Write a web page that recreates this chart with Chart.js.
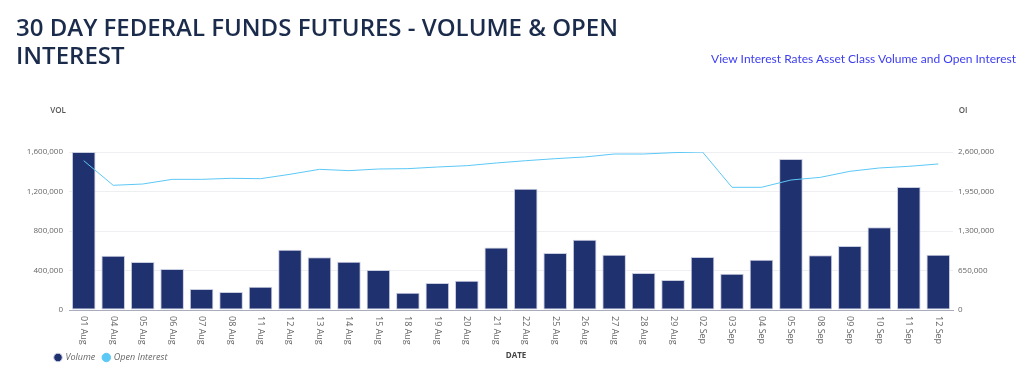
<!DOCTYPE html>
<html>
<head>
<meta charset="utf-8">
<script src="https://cdn.jsdelivr.net/npm/chart.js@4.4.1/dist/chart.umd.min.js"></script>
<style>
  html, body { margin: 0; padding: 0; background: #fff; width: 1024px; height: 367px; overflow: hidden; }
  #title { position: absolute; left: 16px; top: 13px; margin: 0; font-family: "Open Sans", sans-serif; font-weight: 600; font-size: 24px; line-height: 28px; color: #1b2b4b; white-space: nowrap; }
  #link { position: absolute; right: 8px; top: 51px; font-family: "Lato", sans-serif; font-size: 12px; color: #3d3df2; white-space: nowrap; }
  #wrap { position: absolute; left: 0; top: 0; width: 1024px; height: 367px; }
</style>
</head>
<body>
<div id="wrap"><canvas id="c" width="1024" height="367"></canvas></div>
<h1 id="title">30 DAY FEDERAL FUNDS FUTURES - VOLUME &amp; OPEN<br>INTEREST</h1>
<div id="link">View Interest Rates Asset Class Volume and Open Interest</div>
<script>
const categories = ["01 Aug","04 Aug","05 Aug","06 Aug","07 Aug","08 Aug","11 Aug","12 Aug","13 Aug","14 Aug","15 Aug","18 Aug","19 Aug","20 Aug","21 Aug","22 Aug","25 Aug","26 Aug","27 Aug","28 Aug","29 Aug","02 Sep","03 Sep","04 Sep","05 Sep","08 Sep","09 Sep","10 Sep","11 Sep","12 Sep"];
const volume = [1600000,550000,486000,415000,213000,182000,236000,611000,533000,489000,405000,175000,273000,297000,634000,1228000,577000,712000,560000,375000,304000,537000,368000,510000,1529000,554000,648000,837000,1246000,560000];
const openInterest = [2457000,2052000,2073000,2150000,2150000,2167000,2161000,2233000,2315000,2293000,2320000,2326000,2353000,2375000,2419000,2457000,2490000,2518000,2567000,2567000,2589000,2600000,2019000,2019000,2139000,2183000,2282000,2337000,2364000,2403000];
const volTicks = [0,400000,800000,1200000,1600000];
const oiTicks = [0,650000,1300000,1950000,2600000];

const NAVY = "#203170";
const SKY = "#5cc8f6";
const fmt = v => v.toLocaleString("en-US");

const extras = {
  id: "extras",
  afterLayout(chart) {
    if (chart.legend) {
      chart.legend.left += 39;
      chart.legend.top += 5;
    }
  },
  afterDraw(chart) {
    const ctx = chart.ctx;
    const x = chart.scales.x;
    ctx.save();
    ctx.font = "9px 'Open Sans', sans-serif";
    ctx.fillStyle = "#666";
    ctx.textAlign = "left";
    ctx.textBaseline = "middle";
    categories.forEach((c, i) => {
      const px = x.getPixelForValue(i);
      ctx.save();
      ctx.translate(px, x.top + 6);
      ctx.rotate(Math.PI / 2);
      ctx.fillText(c, 0, 0);
      ctx.restore();
    });
    ctx.font = "600 8px 'Open Sans', sans-serif";
    ctx.fillStyle = "#555";
    ctx.textAlign = "center";
    ctx.fillText("VOL", 58, 111);
    ctx.fillText("OI", 963, 111);
    ctx.fillStyle = "#444";
    ctx.font = "bold 8px 'Open Sans', sans-serif";
    ctx.fillText("DATE", 516, 356);
    ctx.restore();
  }
};

new Chart(document.getElementById("c"), {
  data: {
    labels: categories,
    datasets: [
      { type: "bar", label: "Volume", data: volume, yAxisID: "yVol", order: 1,
        backgroundColor: NAVY, borderColor: "#c9cde0", borderWidth: 1, borderSkipped: false,
        categoryPercentage: 1, barPercentage: 0.8 },
      { type: "line", label: "Open Interest", data: openInterest, yAxisID: "yOI", order: 0,
        borderColor: SKY, backgroundColor: SKY, borderWidth: 1, pointRadius: 0, tension: 0, fill: false }
    ]
  },
  options: {
    responsive: false,
    animation: false,
    layout: { padding: { top: 152, left: 8, right: 0, bottom: 0 } },
    plugins: {
      tooltip: { enabled: false },
      legend: {
        position: "bottom", align: "start",
        labels: { usePointStyle: true, pointStyle: "circle", boxWidth: 6, boxHeight: 6, padding: 8,
          sort: (a, b) => a.datasetIndex - b.datasetIndex,
          color: "#666", font: { family: "'Open Sans', sans-serif", size: 9, style: "italic" } }
      }
    },
    scales: {
      x: {
        ticks: { display: false },
        grid: { display: false, drawTicks: false },
        border: { display: true, color: "#a9adbb", width: 1 },
        afterFit: s => { s.height = 30; }
      },
      yVol: {
        position: "left", min: 0, max: 1600000,
        afterBuildTicks: s => { s.ticks = volTicks.map(v => ({ value: v })); },
        ticks: { callback: v => fmt(v), color: "#666", padding: 6, font: { family: "'Open Sans', sans-serif", size: 8 } },
        grid: { color: "#eeeff3", drawTicks: false },
        border: { display: false },
        afterFit: s => { s.width = 61; }
      },
      yOI: {
        position: "right", min: 0, max: 2600000,
        afterBuildTicks: s => { s.ticks = oiTicks.map(v => ({ value: v })); },
        ticks: { callback: v => fmt(v), color: "#666", padding: 5, font: { family: "'Open Sans', sans-serif", size: 8 } },
        grid: { display: false, drawTicks: false },
        border: { display: false },
        afterFit: s => { s.width = 71; }
      }
    }
  },
  plugins: [extras]
});
</script>
</body>
</html>
